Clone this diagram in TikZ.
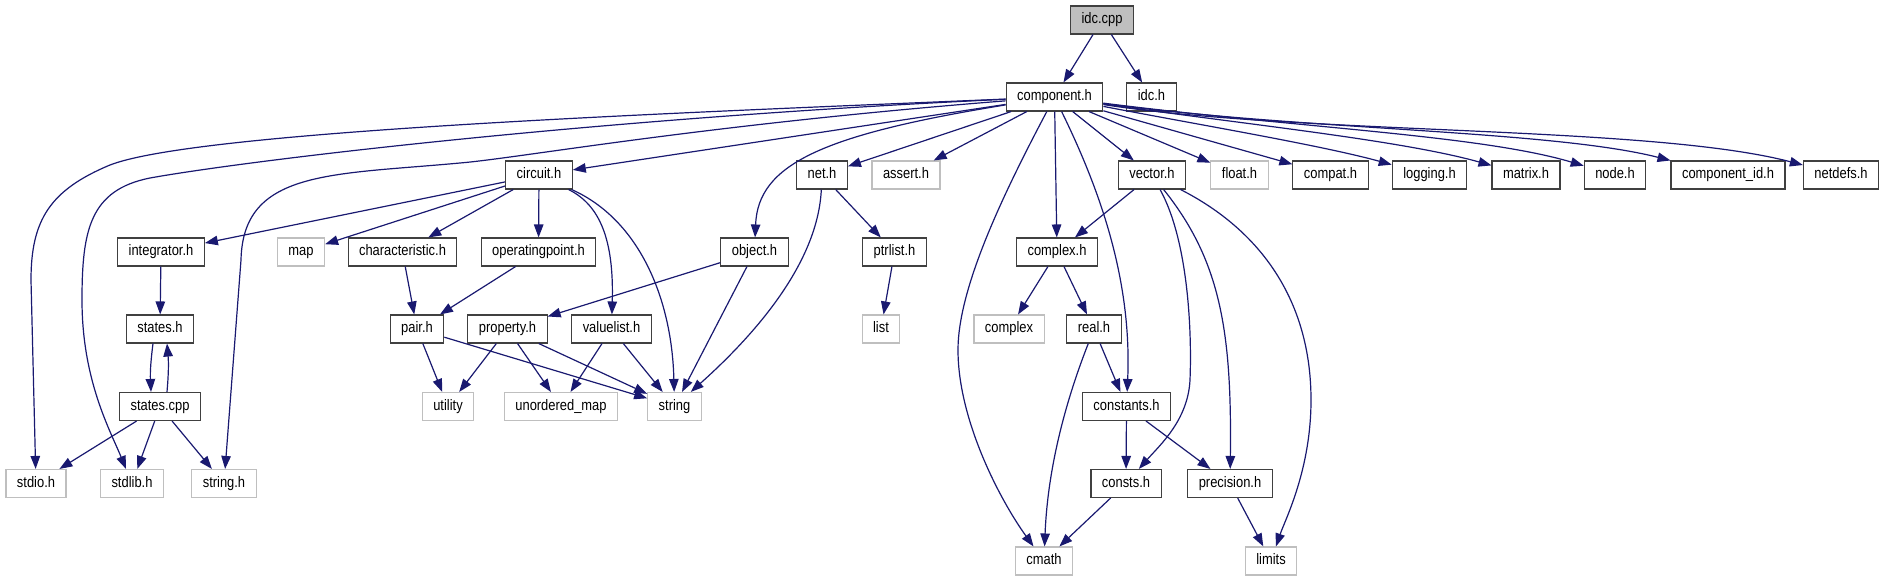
\documentclass[tikz,border=0pt]{standalone}
\usepackage{fontspec}
\setmainfont[FakeStretch=0.85]{Liberation Sans}
\usepackage{tikz}
\usetikzlibrary{arrows.meta, positioning}
\definecolor{edgeblue}{RGB}{25,25,112}
\definecolor{sysgray}{RGB}{191,191,191}
\definecolor{boxline}{RGB}{64,64,64}

\tikzset{
  hdr/.style={draw=boxline, line width=1.1pt, fill=white, minimum height=28pt, inner xsep=11pt,
    text height=10.5pt, text depth=3pt, font=\fontsize{15.2}{17}\selectfont},
  syshdr/.style={hdr, draw=sysgray},
  dep/.style={draw=edgeblue, line width=1.2pt, -{Triangle[length=13pt,width=9.5pt]}},
}

\begin{document}
\begin{tikzpicture}[x=1pt, y=-1pt]
    \useasboundingbox (0,0) rectangle (1888,581);
    % file nodes, row by row
    \node[hdr, fill=sysgray] (idccpp) at (1102,20) {idc.cpp};
    \node[hdr] (comp) at (1054.5,97) {component.h};
    \node[hdr] (idch) at (1151.5,97) {idc.h};

    \node[hdr] (circuit) at (539,175) {circuit.h};
    \node[hdr] (neth) at (822,175) {net.h};
    \node[syshdr] (asserth) at (906,175) {assert.h};
    \node[hdr] (vectorh) at (1152,175) {vector.h};
    \node[syshdr] (floath) at (1239.5,175) {float.h};
    \node[hdr] (compath) at (1330.5,175) {compat.h};
    \node[hdr] (loggingh) at (1429.5,175) {logging.h};
    \node[hdr] (matrixh) at (1526,175) {matrix.h};
    \node[hdr] (nodeh) at (1615,175) {node.h};
    \node[hdr] (compid) at (1728,175) {component\_id.h};
    \node[hdr] (netdefs) at (1841,175) {netdefs.h};

    \node[hdr] (integrator) at (161,252) {integrator.h};
    \node[syshdr] (mapn) at (301,252) {map};
    \node[hdr] (charact) at (402.5,252) {characteristic.h};
    \node[hdr] (oppoint) at (538.5,252) {operatingpoint.h};
    \node[hdr] (objecth) at (754.5,252) {object.h};
    \node[hdr] (ptrlist) at (894.5,252) {ptrlist.h};
    \node[hdr] (complexh) at (1057,252) {complex.h};

    \node[hdr] (statesh) at (160,329) {states.h};
    \node[hdr] (pairh) at (417,329) {pair.h};
    \node[hdr] (property) at (507.5,329) {property.h};
    \node[hdr] (valuelist) at (611.5,329) {valuelist.h};
    \node[syshdr] (listn) at (881,329) {list};
    \node[syshdr] (complexn) at (1009,329) {complex};
    \node[hdr] (realh) at (1094,329) {real.h};

    \node[hdr] (statescpp) at (160,406.5) {states.cpp};
    \node[syshdr] (utility) at (448,406.5) {utility};
    \node[syshdr] (umap) at (561,406.5) {unordered\_map};
    \node[syshdr] (stringn) at (674.5,406.5) {string};
    \node[hdr] (constants) at (1126.5,406.5) {constants.h};

    \node[syshdr] (stdioh) at (36,483.5) {stdio.h};
    \node[syshdr] (stdlibh) at (132,483.5) {stdlib.h};
    \node[syshdr] (stringh) at (224,483.5) {string.h};
    \node[hdr] (constsh) at (1126,483.5) {consts.h};
    \node[hdr] (precision) at (1230,483.5) {precision.h};

    \node[syshdr] (cmath) at (1044,561) {cmath};
    \node[syshdr] (limits) at (1271,561) {limits};

    % includes of idc.cpp
    \draw[dep] (idccpp) -- (comp);
    \draw[dep] (idccpp) -- (idch);

    % includes of component.h
    \draw[dep] (comp) .. controls (700,112) and (200,130) .. (110,165) .. controls (50,190) and (31,220) .. (31,280) -- (stdioh);
    \draw[dep] (comp) .. controls (600,118) and (250,160) .. (150,178) .. controls (90,190) and (82,230) .. (82,300) .. controls (82,380) and (110,430) .. (stdlibh);
    \draw[dep] (comp) .. controls (700,125) and (520,158) .. (460,163) .. controls (330,175) and (243,170) .. (241,260) -- (stringh);
    \draw[dep] (comp) -- (circuit);
    \draw[dep] (comp) .. controls (820,135) and (758,165) .. (objecth);
    \draw[dep] (comp) -- (neth);
    \draw[dep] (comp) -- (asserth);
    \draw[dep] (comp) .. controls (1000,200) and (958,290) .. (958,350) .. controls (958,420) and (1000,500) .. (cmath);
    \draw[dep] (comp) -- (complexh);
    \draw[dep] (comp) .. controls (1100,190) and (1132,280) .. (constants);
    \draw[dep] (comp) -- (vectorh);
    \draw[dep] (comp) -- (floath);
    \draw[dep] (comp) -- (compath);
    \draw[dep] (comp) .. controls (1200,125) and (1320,145) .. (loggingh);
    \draw[dep] (comp) .. controls (1250,125) and (1400,140) .. (matrixh);
    \draw[dep] (comp) .. controls (1300,128) and (1480,135) .. (nodeh);
    \draw[dep] (comp) .. controls (1300,130) and (1550,130) .. (compid);
    \draw[dep] (comp) .. controls (1300,135) and (1650,125) .. (netdefs);

    % includes of circuit.h
    \draw[dep] (circuit) -- (integrator);
    \draw[dep] (circuit) -- (mapn);
    \draw[dep] (circuit) -- (charact);
    \draw[dep] (circuit) -- (oppoint);
    \draw[dep] (circuit) .. controls (600,205) and (614,240) .. (valuelist);
    \draw[dep] (circuit) .. controls (640,220) and (672,300) .. (stringn);

    % left branch
    \draw[dep] (integrator) -- (statesh);
    \draw[dep] ([xshift=-7pt]statesh.south) to[bend right=5] ([xshift=-9pt]statescpp.north);
    \draw[dep] ([xshift=7pt]statescpp.north) to[bend right=5] ([xshift=7pt]statesh.south);
    \draw[dep] (statescpp) -- (stdioh);
    \draw[dep] (statescpp) -- (stdlibh);
    \draw[dep] (statescpp) -- (stringh);

    % middle branch
    \draw[dep] (charact) -- (pairh);
    \draw[dep] (oppoint) -- (pairh);
    \draw[dep] (objecth) -- (property);
    \draw[dep] (objecth) -- (stringn);
    \draw[dep] (neth) -- (ptrlist);
    \draw[dep] (neth) .. controls (818,260) and (760,330) .. (stringn);
    \draw[dep] (ptrlist) -- (listn);
    \draw[dep] (pairh) -- (utility);
    \draw[dep] (pairh) -- (stringn);
    \draw[dep] (property) -- (utility);
    \draw[dep] (property) -- (umap);
    \draw[dep] (property) -- (stringn);
    \draw[dep] (valuelist) -- (umap);
    \draw[dep] (valuelist) -- (stringn);

    % right branch
    \draw[dep] (vectorh) -- (complexh);
    \draw[dep] (vectorh) .. controls (1188,240) and (1192,330) .. (1190,380) .. controls (1188,420) and (1160,445) .. (constsh);
    \draw[dep] (vectorh) .. controls (1220,260) and (1232,330) .. (precision);
    \draw[dep] (vectorh) .. controls (1260,230) and (1311,300) .. (1311,400) .. controls (1311,470) and (1285,520) .. (limits);
    \draw[dep] (complexh) -- (complexn);
    \draw[dep] (complexh) -- (realh);
    \draw[dep] (realh) -- (constants);
    \draw[dep] (realh) .. controls (1070,390) and (1048,460) .. (cmath);
    \draw[dep] (constants) -- (constsh);
    \draw[dep] (constants) -- (precision);
    \draw[dep] (constsh) -- (cmath);
    \draw[dep] (precision) -- (limits);
\end{tikzpicture}
\end{document}
